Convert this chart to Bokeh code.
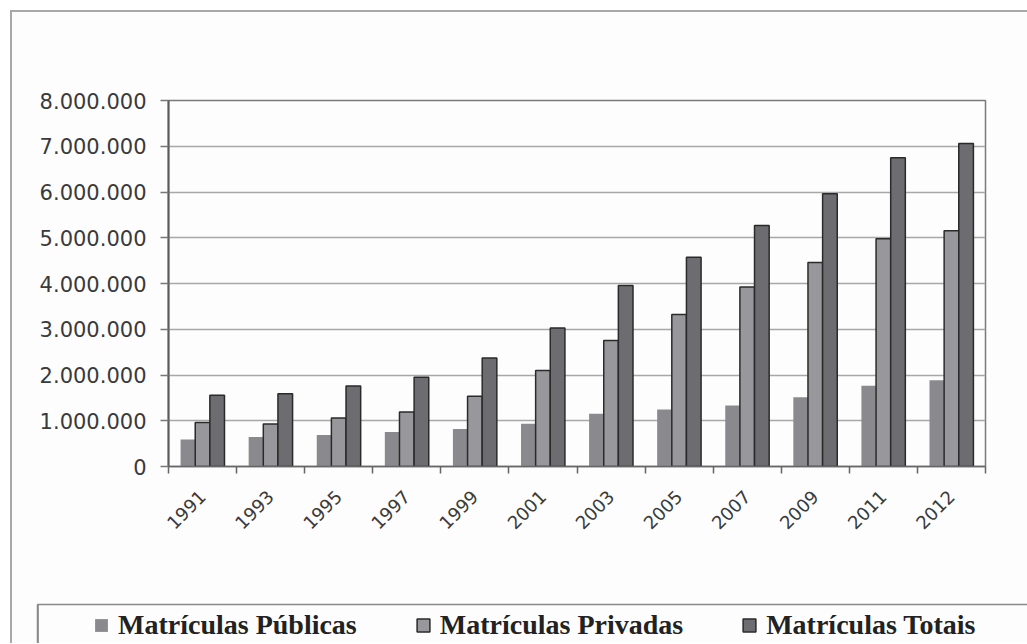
from bokeh.plotting import figure
from bokeh.models import (ColumnDataSource, FixedTicker, Range1d, Legend, LegendItem, LinearAxis)
from bokeh.layouts import column
from bokeh.transform import dodge
from bokeh.embed import file_html
from bokeh.resources import INLINE
import math

# ---- data ----
years = ["1991", "1993", "1995", "1997", "1999", "2001", "2003", "2005", "2007", "2009", "2011", "2012"]
publicas = [590000, 645000, 690000, 755000, 820000, 935000, 1155000, 1245000, 1335000, 1515000, 1765000, 1885000]
privadas = [960000, 930000, 1058000, 1190000, 1535000, 2100000, 2755000, 3320000, 3925000, 4460000, 4980000, 5155000]
totais = [1555000, 1590000, 1757000, 1950000, 2370000, 3030000, 3955000, 4575000, 5270000, 5960000, 6750000, 7060000]
y_ticks = [0, 1000000, 2000000, 3000000, 4000000, 5000000, 6000000, 7000000, 8000000]
y_tick_labels = ["0", "1.000.000", "2.000.000", "3.000.000", "4.000.000", "5.000.000",
                 "6.000.000", "7.000.000", "8.000.000"]
series_names = ["Matrículas Públicas", "Matrículas Privadas", "Matrículas Totais"]

xs = list(range(len(years)))
src = ColumnDataSource(dict(x=xs, pub=publicas, priv=privadas, tot=totais))

BG = "#fdfdfd"
PUB = dict(fill_color="#8a8a8e", line_color=None)
PRIV = dict(fill_color="#98989c", line_color="#2a2a2a", line_width=1.5)
TOT = dict(fill_color="#6d6d71", line_color="#2a2a2a", line_width=1.5)

# ---------- main chart ----------
W1, H1 = 1015, 590
p = figure(width=W1, height=H1, output_backend="svg", toolbar_location=None,
           x_range=Range1d(-0.5, len(years) - 0.5), y_range=Range1d(0, 8000000),
           min_border_left=156, min_border_right=42, min_border_top=88, min_border_bottom=136)
p.frame_align = False
p.background_fill_color = BG
p.border_fill_color = BG
p.outline_line_color = "#7a7a7a"
p.outline_line_width = 1.5

bw = 0.215
r_pub = p.vbar(x=dodge("x", -bw, range=p.x_range), top="pub", width=bw, source=src, **PUB)
r_priv = p.vbar(x=dodge("x", 0, range=p.x_range), top="priv", width=bw, source=src, **PRIV)
r_tot = p.vbar(x=dodge("x", bw, range=p.x_range), top="tot", width=bw, source=src, **TOT)

p.xgrid.grid_line_color = None
p.ygrid.grid_line_color = "#a8a8a8"
p.ygrid.grid_line_width = 1.5
p.yaxis.ticker = FixedTicker(ticks=y_ticks)
p.yaxis.major_label_overrides = {t: s for t, s in zip(y_ticks, y_tick_labels)}
p.yaxis.major_label_text_font = "DejaVu Sans"
p.yaxis.major_label_text_font_size = "21px"
p.yaxis.major_label_text_color = "#3a3a3a"
p.yaxis.major_tick_out = 8
p.yaxis.major_tick_in = 0
p.yaxis.minor_tick_out = 0
p.yaxis.minor_tick_in = 0
p.yaxis.major_label_standoff = 14
p.yaxis.axis_line_color = "#5a5a5a"
p.yaxis.axis_line_width = 2
p.yaxis.major_tick_line_color = "#777777"
p.yaxis.major_tick_line_width = 1.5

boundaries = [i - 0.5 for i in range(len(years) + 1)]
p.xaxis.ticker = FixedTicker(ticks=xs, minor_ticks=boundaries)
p.xaxis.major_label_overrides = {i: y for i, y in zip(xs, years)}
p.xaxis.major_label_orientation = math.pi / 4
p.xaxis.major_label_text_font = "DejaVu Sans"
p.xaxis.major_label_text_font_size = "18px"
p.xaxis.major_label_text_color = "#3a3a3a"
p.xaxis.major_tick_out = 0
p.xaxis.major_tick_in = 0
p.xaxis.minor_tick_out = 7
p.xaxis.minor_tick_in = 0
p.xaxis.minor_tick_line_color = "#666666"
p.xaxis.minor_tick_line_width = 1.5
p.xaxis.major_label_standoff = 20
p.xaxis.axis_line_color = "#666666"
p.xaxis.axis_line_width = 1.5

# ---------- legend strip ----------
W2, H2 = 1015, 41
q = figure(width=W2, height=H2, output_backend="svg", toolbar_location=None,
           x_range=Range1d(0, 1), y_range=Range1d(0, 1),
           x_axis_location=None, y_axis_location=None,
           min_border_left=25, min_border_right=0, min_border_top=2, min_border_bottom=0)
q.frame_align = False
q.background_fill_color = BG
q.border_fill_color = BG
q.outline_line_color = None
q.xgrid.grid_line_color = None
q.ygrid.grid_line_color = None
for loc in ("left", "above"):
    ax = LinearAxis(ticker=FixedTicker(ticks=[]), major_tick_out=0, major_tick_in=0,
                    minor_tick_out=0, minor_tick_in=0, major_label_standoff=0,
                    axis_line_color="#8a8a8a", axis_line_width=1.5)
    q.add_layout(ax, loc)

# legend-only swatches (kept outside the visible range of the strip)
swatch = dict(x=[-10], top=[1])
l_pub = q.vbar(x="x", top="top", width=0.1, source=ColumnDataSource(swatch), **PUB)
l_priv = q.vbar(x="x", top="top", width=0.1, source=ColumnDataSource(swatch), **PRIV)
l_tot = q.vbar(x="x", top="top", width=0.1, source=ColumnDataSource(swatch), **TOT)

legend = Legend(items=[LegendItem(label=series_names[0], renderers=[l_pub]),
                       LegendItem(label=series_names[1], renderers=[l_priv]),
                       LegendItem(label=series_names[2], renderers=[l_tot])],
                location=(54, 0), orientation="horizontal",
                label_text_font="Liberation Serif", label_text_font_style="bold",
                label_text_font_size="28px", label_text_color="#222222",
                glyph_width=16, glyph_height=16, label_standoff=9, spacing=58,
                padding=2, margin=0, border_line_alpha=0, background_fill_alpha=0)
q.add_layout(legend)

layout = column(p, q, spacing=0,
                styles={"margin-left": "10px", "margin-top": "10px",
                        "border-left": "2px solid #a8a8a8", "border-top": "2px solid #a8a8a8",
                        "background-color": BG})

open("out.html", "w").write(file_html(layout, INLINE))
